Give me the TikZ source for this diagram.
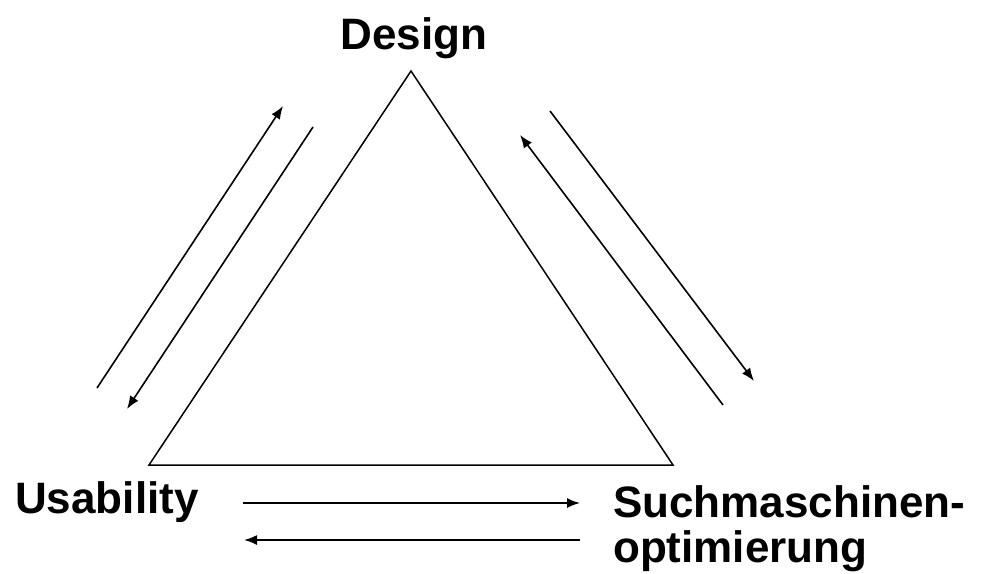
\documentclass[tikz,border=0pt]{standalone}
\usepackage{fontspec}
\setmainfont{Liberation Sans}
\usetikzlibrary{positioning, arrows.meta}
\tikzstyle{corner} = [font=\fontsize{44}{45}\selectfont\bfseries, inner sep=0pt]
\tikzstyle{edge} = [line width=1.5pt]
\tikzstyle{arrow} = [line width=1.6pt, -{Latex[length=13pt, width=10pt]}]
\begin{document}
\begin{tikzpicture}[x=1pt, y=-1pt]
			\useasboundingbox (0,0) rectangle (984,573);
			\coordinate (top) at (411,71);
			\coordinate (left) at (149,465);
			\coordinate (right) at (673,465);
			\draw [edge] (top) -- (left) -- (right) -- cycle;

			\node (design) [corner, anchor=base] at (414,49) {Design};
			\node (usab) [corner, anchor=base west] at (15,513) {Usability};
			\node (seo) [corner, anchor=base west, align=left] at (613,562) {Suchmaschinen-\\optimierung};

			%arrow ends
			\coordinate (ul1) at (97,388);   \coordinate (ul2) at (283,106);
			\coordinate (du1) at (313,127);  \coordinate (du2) at (127,409);
			\coordinate (sd1) at (723,405);  \coordinate (sd2) at (520,135);
			\coordinate (ds1) at (550,111);  \coordinate (ds2) at (754,381);
			\coordinate (us1) at (243,503);  \coordinate (us2) at (580,503);
			\coordinate (su1) at (580,540);  \coordinate (su2) at (244,540);

			%arrows
			\draw [arrow] (ul1) -- (ul2);
			\draw [arrow] (du1) -- (du2);
			\draw [arrow] (sd1) -- (sd2);
			\draw [arrow] (ds1) -- (ds2);
			\draw [arrow] (us1) -- (us2);
			\draw [arrow] (su1) -- (su2);

		\end{tikzpicture}
\end{document}
